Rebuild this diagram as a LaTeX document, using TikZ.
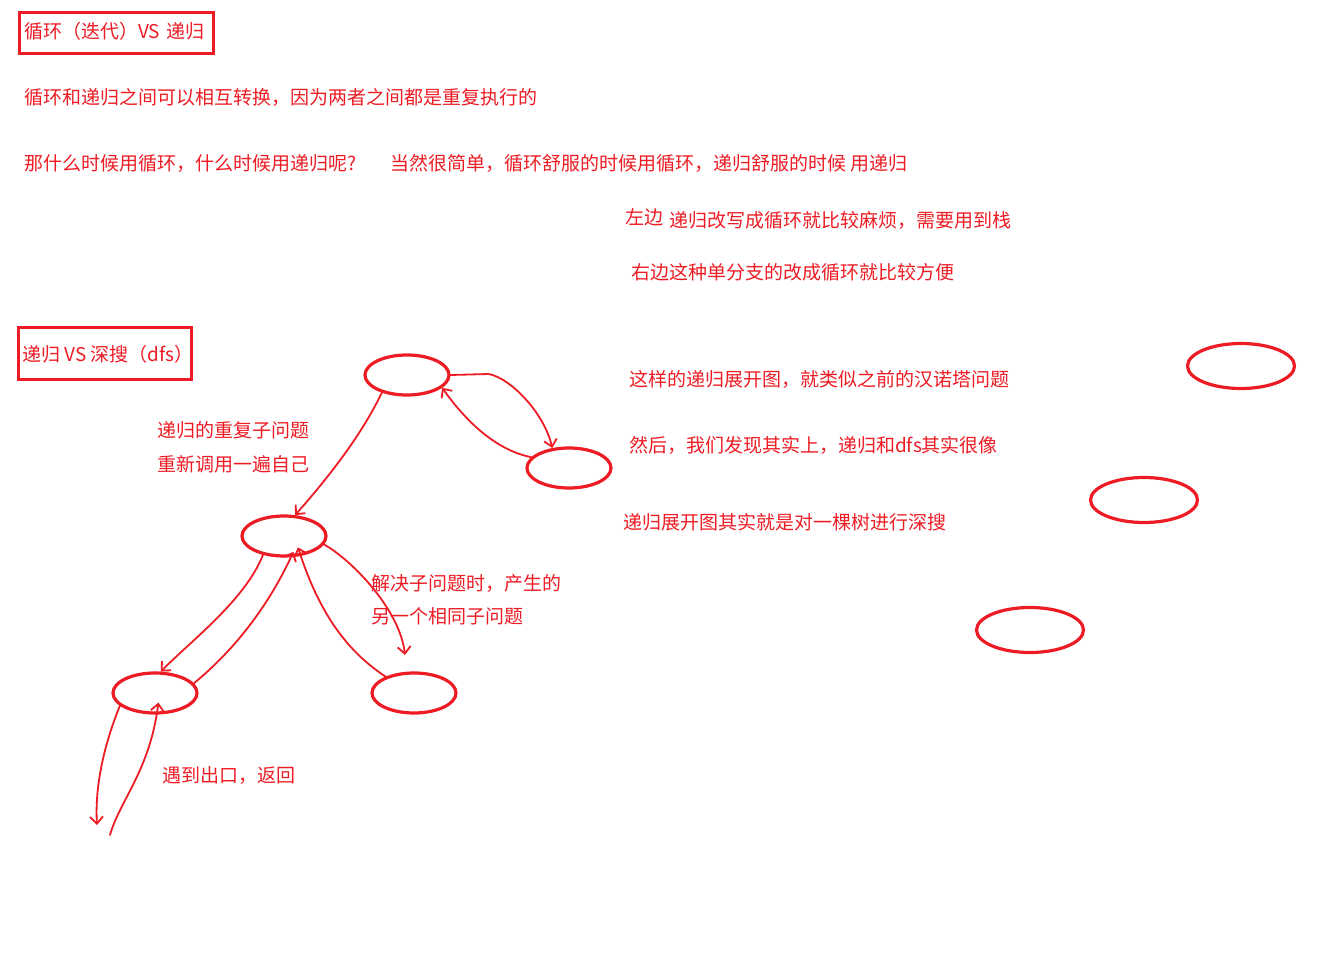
\documentclass[tikz,border=0pt]{standalone}
\usepackage{fontspec}
\setmainfont{Noto Sans CJK SC}
\usetikzlibrary{arrows.meta,shapes.geometric}
\definecolor{pr}{RGB}{237,28,36}
\begin{document}
\begin{tikzpicture}[x=1pt,y=-1pt,
  txt/.style={anchor=base west, inner sep=0pt, text=pr, font=\fontsize{19}{19}\selectfont},
  bubble/.style={draw=pr, line width=3.2pt, ellipse, minimum width=84pt, minimum height=40pt, inner sep=0pt},
  bigbubble/.style={bubble, minimum width=107pt, minimum height=45pt},
  titlebox/.style={draw=pr, line width=3pt},
  hand/.style={draw=pr, line width=1.8pt, line cap=round, line join=round, -{Straight Barb[length=7pt,width=13pt,line width=1.8pt]}}]
\useasboundingbox (0,0) rectangle (1328,965);

% top section
\node[txt] (t1) at (24,39) {循环（迭代）VS\,\,递归};
\draw[titlebox] (19,13) rectangle (213,54);
\node[txt] (t2) at (24,105) {循环和递归之间可以相互转换，因为两者之间都是重复执行的};
\node[txt] (t3a) at (24,171) {那什么时候用循环，什么时候用递归呢?};
\node[txt] (t3b) at (390,171) {当然很简单，循环舒服的时候用循环，递归舒服的时候 用递归};
\node[txt] (t4a) at (625,225) {左边};
\node[txt] (t4b) at (669,228) {递归改写成循环就比较麻烦，需要用到栈};
\node[txt] (t5) at (631,280) {右边这种单分支的改成循环就比较方便};

% second section
\node[txt] (s1) at (22,362) {递归 VS 深搜（dfs）};
\draw[titlebox] (18,328) rectangle (191,380);
\node[txt] (s2) at (629,387) {这样的递归展开图，就类似之前的汉诺塔问题};
\node[txt] (s3) at (629,453) {然后，我们发现其实上，递归和dfs其实很像};
\node[txt] (s4) at (623,529) {递归展开图其实就是对一棵树进行深搜};
\node[txt] (l1) at (157,438) {递归的重复子问题};
\node[txt] (l2) at (157,471) {重新调用一遍自己};
\node[txt] (l3) at (371,590) {解决子问题时，产生的};
\node[txt] (l4) at (371,623) {另一个相同子问题};
\node[txt] (l5) at (162,782) {遇到出口，返回};

% tree
\node[bubble] (A) at (407,375) {};
\node[bubble] (B) at (569,468) {};
\node[bubble] (C) at (284,536) {};
\node[bubble] (D) at (155,693) {};
\node[bubble] (E) at (414,693) {};
\node[bigbubble] (F) at (1241,366) {};
\node[bigbubble] (G) at (1144,500) {};
\node[bigbubble] (H) at (1030,630) {};

\coordinate (e1) at (405,655);
\coordinate (d1) at (97,825);
\coordinate (d2) at (110,835);

\draw[hand] (A.east) -- ++(38,-1) .. controls +(22,4) and +(-8,-35) .. (B.130);
\draw[hand] (B.164) .. controls (495,450) and (465,420) .. (A.-20);
\draw[hand] (A.215) .. controls (364,430) and (335,470) .. (C.62);
\draw[hand] (C.222) .. controls (245,600) and (192,640) .. (D.75);
\draw[hand, shorten >=-6pt] (D.14) .. controls (222,660) and (262,620) .. (C.-72);
\draw[hand] (C.-12) .. controls (352,560) and (400,610) .. (e1);
\draw[hand, shorten >=-9pt] (E.150) .. controls (345,650) and (318,610) .. (C.-50);
\draw[hand] (D.200) .. controls (102,750) and (95,790) .. (d1);
\draw[hand, shorten >=-12pt] (d2) .. controls (120,800) and (150,770) .. (D.-85);
\end{tikzpicture}
\end{document}
